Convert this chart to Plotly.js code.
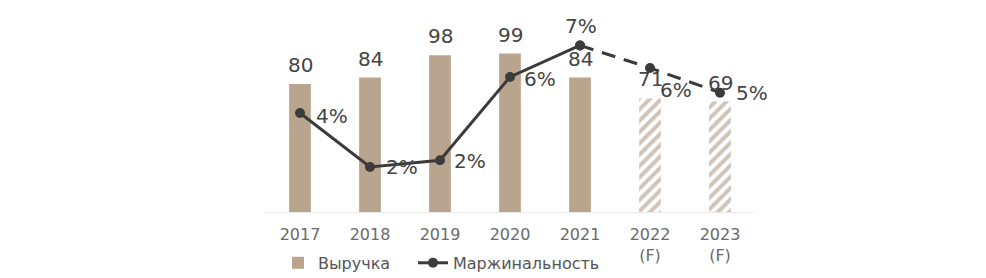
<!DOCTYPE html>
<html><head><meta charset="utf-8">
<script src="https://cdn.plot.ly/plotly-3.0.1.min.js"></script>
<style>html,body{margin:0;padding:0;background:#fff}#c{width:986px;height:278px}</style>
</head><body><div id="c"></div>
<script>
var categories = ["2017","2018","2019","2020","2021","2022<br>(F)","2023<br>(F)"];
var revenue = [80, 84, 98, 99, 84, 71, 69];
var margin = [4.4, 2.0, 2.3, 6.0, 7.4, 6.4, 5.3];
var marginLabels = ["4%","2%","2%","6%","7%","6%","5%"];
var forecast = [false,false,false,false,false,true,true];

var tan = "#b9a48e";
var hatch = "#a28a73";
var dark = "#3b3b3b";
var labelColor = "#444";
var font = "DejaVu Sans, Verdana, sans-serif";

function sel(a, cond){ return a.map(function(v,i){ return cond(i) ? v : null; }); }
var isF = function(i){ return forecast[i]; };
var notF = function(i){ return !forecast[i]; };

var barsActual = {
  type: "bar", name: "Выручка", x: categories, y: sel(revenue, notF),
  marker: {color: tan, line: {width: 0}}, hoverinfo: "skip", legend: "legend"
};
var barsForecast = {
  type: "bar", name: "Выручка (F)", showlegend: false, x: categories, y: sel(revenue, isF),
  marker: {color: "white", line: {width: 0},
    pattern: {shape: "/", fgcolor: hatch, bgcolor: "white", fillmode: "overlay", size: 8, solidity: 0.5}},
  hoverinfo: "skip"
};
var solidIdx = [0,1,2,3,4], dashIdx = [4,5,6];
function pick(a, idx){ return idx.map(function(i){return a[i];}); }
var lineSolid = {
  type: "scatter", mode: "lines+markers", name: "Маржинальность", legend: "legend2",
  x: pick(categories, solidIdx), y: pick(margin, solidIdx), yaxis: "y2",
  line: {color: dark, width: 3}, marker: {color: dark, size: 10}, cliponaxis: false
};
var lineDash = {
  type: "scatter", mode: "lines+markers", name: "Маржинальность (F)", showlegend: false,
  x: pick(categories, dashIdx), y: pick(margin, dashIdx), yaxis: "y2",
  line: {color: dark, width: 3, dash: "14px,9px"}, marker: {color: dark, size: 10}, cliponaxis: false
};

// revenue labels above bars
var barAnnotations = categories.map(function(c, i){
  return {x: i, y: revenue[i], xref: "x", yref: "y", text: String(revenue[i]), showarrow: false,
    xanchor: "center", yanchor: "middle", yshift: 19,
    font: {family: font, size: 20, color: labelColor}};
});
// margin labels next to points
var labelAnchor = ["left","left","left","left","center","left","left"];
var labelDx = [14, 14, 12, 12, 1, 8, 14];
var labelDy = [-3, 0, -1, -2, 19, -22, 0];
var marginAnnotations = categories.map(function(c, i){
  return {x: i, y: margin[i], xref: "x", yref: "y2", text: marginLabels[i], showarrow: false,
    xanchor: labelAnchor[i], yanchor: "middle", xshift: labelDx[i], yshift: labelDy[i],
    font: {family: font, size: 20, color: labelColor}};
});

var legendFont = {family: font, size: 16, color: "#555"};
var layout = {
  width: 986, height: 278,
  margin: {l: 265, r: 231, t: 20, b: 66, autoexpand: false},
  paper_bgcolor: "white", plot_bgcolor: "white",
  barmode: "overlay", bargap: 0.69,
  showlegend: true,
  legend: {orientation: "h", x: 0.0265, xanchor: "left", y: -0.265, yanchor: "middle",
    font: legendFont, itemwidth: 30, bgcolor: "rgba(0,0,0,0)"},
  legend2: {orientation: "h", x: 0.302, xanchor: "left", y: -0.265, yanchor: "middle",
    font: legendFont, itemwidth: 30, bgcolor: "rgba(0,0,0,0)"},
  annotations: barAnnotations.concat(marginAnnotations),
  xaxis: {type: "category", range: [-0.5, 6.5], showgrid: false, zeroline: false,
    showline: true, linecolor: "#e8e8e8", linewidth: 1, ticks: "", ticklabelstandoff: 8,
    tickfont: {family: font, size: 16, color: "#6a6a6a"}, fixedrange: true},
  yaxis: {range: [0, 120], visible: false, fixedrange: true},
  yaxis2: {range: [0, 8.53], overlaying: "y", side: "right", visible: false, fixedrange: true}
};
Plotly.newPlot("c", [barsActual, barsForecast, lineSolid, lineDash], layout, {displayModeBar: false, staticPlot: true});
</script></body></html>
